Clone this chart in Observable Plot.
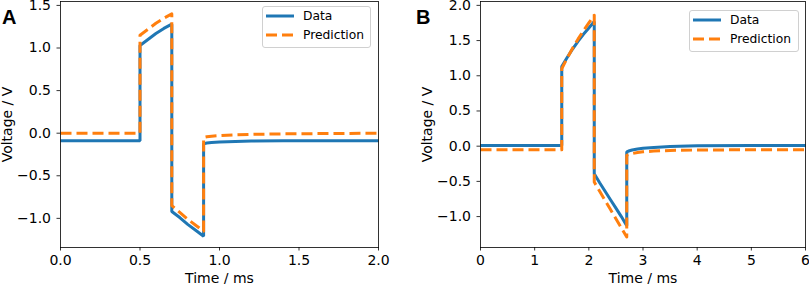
<!DOCTYPE html>
<html>
<head>
<meta charset="utf-8">
<script src="https://cdn.jsdelivr.net/npm/d3@7"></script>
<script src="https://cdn.jsdelivr.net/npm/@observablehq/plot@0.6"></script>
<style>
  html, body { margin: 0; padding: 0; background: #fff; }
  #wrap { position: relative; width: 809px; height: 284px; overflow: hidden; font-family: 'DejaVu Sans', sans-serif; }
  #wrap svg { font-family: 'DejaVu Sans', sans-serif !important; font-size: 14px !important; }
  #wrap svg g, #wrap svg text { font-size: 14px !important; font-family: 'DejaVu Sans', sans-serif !important; }
  .panel { position: absolute; top: 0; }
  .letter { position: absolute; font-family: 'Liberation Sans', Arial, sans-serif; font-weight: bold; font-size: 20px; line-height: 1; }
  .legend { position: absolute; background: rgba(255,255,255,0.8); border: 1px solid #d0d0d0; border-radius: 3px; box-sizing: border-box; font-size: 12.3px; font-family: 'DejaVu Sans', sans-serif; }
</style>
</head>
<body>
<div id="wrap"></div>
<script>
// ---- Panel A data (time in ms, voltage in V) ----
const tDataA = [0, 0.5, 0.5, 0.55, 0.6, 0.65, 0.7, 0.7, 0.75, 0.8, 0.85, 0.9, 0.9, 0.92, 0.95, 1.0, 1.1, 1.2, 1.4, 2.0];
const vDataA = [-0.09, -0.09, 1.03, 1.10, 1.17, 1.23, 1.28, -0.92, -0.99, -1.07, -1.14, -1.21, -0.125, -0.115, -0.108, -0.103, -0.097, -0.093, -0.09, -0.09];
const tPredA = [0, 0.5, 0.5, 0.55, 0.6, 0.65, 0.7, 0.7, 0.75, 0.8, 0.85, 0.9, 0.9, 0.92, 0.95, 1.0, 1.1, 1.2, 1.4, 1.7, 2.0];
const vPredA = [0, 0, 1.15, 1.22, 1.29, 1.35, 1.40, -0.85, -0.93, -1.01, -1.08, -1.15, -0.05, -0.042, -0.035, -0.028, -0.02, -0.014, -0.008, -0.004, 0];

// ---- Panel B data ----
const tDataB = [0, 1.5, 1.5, 1.6, 1.7, 1.8, 1.9, 2.0, 2.1, 2.1, 2.2, 2.3, 2.4, 2.5, 2.6, 2.7, 2.7, 2.75, 2.8, 2.9, 3.0, 3.2, 3.5, 4.0, 5.0, 6.0];
const vDataB = [0.01, 0.01, 1.13, 1.26, 1.38, 1.49, 1.59, 1.68, 1.77, -0.39, -0.52, -0.64, -0.76, -0.88, -1.00, -1.13, -0.08, -0.065, -0.055, -0.04, -0.03, -0.017, -0.005, 0.005, 0.01, 0.01];
const tPredB = [0, 1.5, 1.5, 1.6, 1.7, 1.8, 1.9, 2.0, 2.1, 2.1, 2.2, 2.3, 2.4, 2.5, 2.6, 2.7, 2.7, 2.75, 2.8, 2.9, 3.0, 3.2, 3.5, 4.0, 5.0, 6.0];
const vPredB = [-0.05, -0.05, 1.10, 1.25, 1.39, 1.52, 1.64, 1.75, 1.86, -0.51, -0.64, -0.77, -0.90, -1.03, -1.16, -1.29, -0.13, -0.115, -0.105, -0.09, -0.08, -0.07, -0.06, -0.055, -0.05, -0.05];

// ---- Ticks and labels ----
const xTicksA = [0, 0.5, 1.0, 1.5, 2.0];
const yTicksA = [-1.0, -0.5, 0.0, 0.5, 1.0, 1.5];
const xTicksB = [0, 1, 2, 3, 4, 5, 6];
const yTicksB = [-1.0, -0.5, 0.0, 0.5, 1.0, 1.5, 2.0];
const seriesNames = ["Data", "Prediction"];
const xLabel = "Time / ms";
const yLabel = "Voltage / V";
const panelLetters = ["A", "B"];

const blue = "#1f77b4", orange = "#ff7f0e";
const minus = s => s.replace("-", "\u2212");
const fmt1 = d => minus(d.toFixed(1));
const fmt0 = d => minus(d.toFixed(0));

function rows(t, v) { return t.map((x, i) => ({t: x, v: v[i]})); }

function panel({tD, vD, tP, vP, xDomain, yDomain, xTicks, yTicks, xFmt, width, marginLeft, marginRight, yLabelOffset}) {
  return Plot.plot({
    width, height: 284,
    marginLeft, marginRight, marginTop: 1, marginBottom: 37,
    style: "font-family: 'DejaVu Sans', sans-serif; font-size: 14px; background: transparent; overflow: visible; color: #000;",
    x: {domain: xDomain},
    y: {domain: yDomain},
    marks: [
      Plot.line(rows(tD, vD), {x: "t", y: "v", stroke: blue, strokeWidth: 3, strokeLinejoin: "miter", strokeLinecap: "butt"}),
      Plot.line(rows(tP, vP), {x: "t", y: "v", stroke: orange, strokeWidth: 3, strokeDasharray: "11,5", strokeLinecap: "butt"}),
      Plot.frame({stroke: "#000", strokeWidth: 0.8}),
      Plot.axisX({ticks: xTicks, tickFormat: xFmt, tickSize: 3.5, tickPadding: 4, strokeWidth: 0.8, fontSize: 14,
        label: xLabel, labelAnchor: "center", labelOffset: 35, labelArrow: "none"}),
      Plot.axisY({ticks: yTicks, tickFormat: fmt1, tickSize: 3.5, tickPadding: 6, strokeWidth: 0.8, fontSize: 14,
        label: yLabel, labelAnchor: "center", labelOffset: yLabelOffset, labelArrow: "none"})
    ]
  });
}

const wrap = document.getElementById("wrap");

const pA = panel({tD: tDataA, vD: vDataA, tP: tPredA, vP: vPredA,
  xDomain: [0, 2], yDomain: [-1.342, 1.546], xTicks: xTicksA, yTicks: yTicksA, xFmt: fmt1,
  width: 400, marginLeft: 60, marginRight: 22, yLabelOffset: 58});
const dA = document.createElement("div"); dA.className = "panel"; dA.style.left = "0px"; dA.appendChild(pA); wrap.appendChild(dA);

const pB = panel({tD: tDataB, vD: vDataB, tP: tPredB, vP: vPredB,
  xDomain: [0, 6], yDomain: [-1.439, 2.055], xTicks: xTicksB, yTicks: yTicksB, xFmt: fmt0,
  width: 409, marginLeft: 80, marginRight: 4, yLabelOffset: 58});
const dB = document.createElement("div"); dB.className = "panel"; dB.style.left = "400px"; dB.appendChild(pB); wrap.appendChild(dB);

// Panel letters
[[panelLetters[0], 2, 7], [panelLetters[1], 416, 7]].forEach(([txt, x, y]) => {
  const el = document.createElement("div"); el.className = "letter"; el.textContent = txt;
  el.style.left = x + "px"; el.style.top = y + "px"; wrap.appendChild(el);
});

// Legends
function legend(left, top, w, h) {
  const box = document.createElement("div"); box.className = "legend";
  Object.assign(box.style, {left: left + "px", top: top + "px", width: w + "px", height: h + "px"});
  const styles = [{stroke: blue, dash: null}, {stroke: orange, dash: "11,5"}];
  seriesNames.forEach((name, i) => {
    const cy = 9 + i * 19.3;
    const svg = document.createElementNS("http://www.w3.org/2000/svg", "svg");
    svg.setAttribute("width", 30); svg.setAttribute("height", 6);
    Object.assign(svg.style, {position: "absolute", left: "3px", top: (cy - 3) + "px"});
    const ln = document.createElementNS("http://www.w3.org/2000/svg", "line");
    ln.setAttribute("x1", 0); ln.setAttribute("x2", 28); ln.setAttribute("y1", 3); ln.setAttribute("y2", 3);
    ln.setAttribute("stroke", styles[i].stroke); ln.setAttribute("stroke-width", 3);
    if (styles[i].dash) ln.setAttribute("stroke-dasharray", styles[i].dash);
    svg.appendChild(ln); box.appendChild(svg);
    const tx = document.createElement("div");
    Object.assign(tx.style, {position: "absolute", left: "40px", top: (cy - 8) + "px", lineHeight: "16px", whiteSpace: "nowrap"});
    tx.textContent = name; box.appendChild(tx);
  });
  wrap.appendChild(box);
}
legend(262, 6, 109, 42);
legend(689, 10, 110, 42);
</script>
</body>
</html>
